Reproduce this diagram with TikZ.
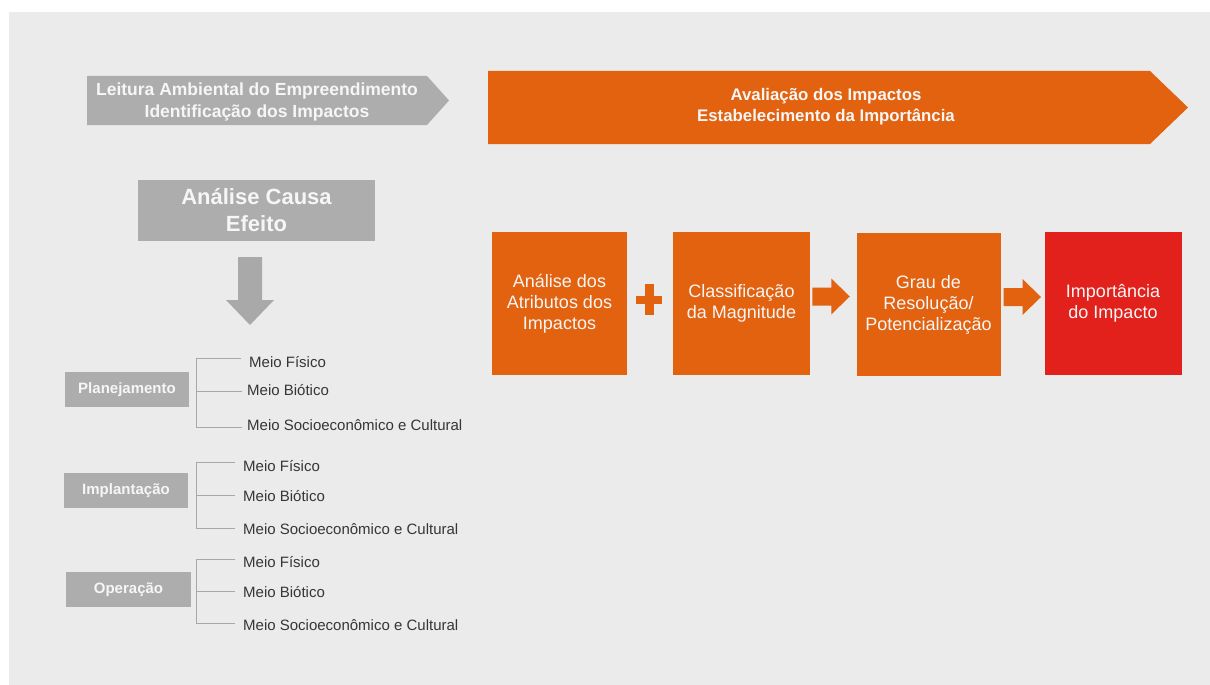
\documentclass[tikz,border=0pt]{standalone}
\usepackage{fontspec}
\setmainfont{Liberation Sans}
\usetikzlibrary{calc}
\definecolor{bg}{HTML}{EBEBEB}
\definecolor{boxgray}{HTML}{ADADAD}
\definecolor{arrowgray}{HTML}{A9A9A9}
\definecolor{orng}{HTML}{E2620F}
\definecolor{redbox}{HTML}{E2211C}
\definecolor{linegray}{HTML}{A8A8A8}
\definecolor{txt}{HTML}{363636}
\definecolor{light}{HTML}{F6F6F6}

\tikzset{
  graybox/.style={fill=boxgray, text=light, inner sep=0pt, align=center,
    font=\bfseries\fontsize{15}{18}\selectfont},
  stagebox/.style={fill=orng, text=light, inner sep=0pt, align=center,
    minimum height=143pt, font=\fontsize{18}{21}\selectfont},
  medium/.style={anchor=west, inner sep=0pt, text=txt,
    font=\fontsize{15}{18}\selectfont},
  treeline/.style={draw=linegray, line width=0.9pt},
  barrow/.pic={\fill[orng] (-19,-9) -- (0,-9) -- (0,-18) -- (18.5,0)
      -- (0,18) -- (0,9) -- (-19,9) -- cycle;},
  plussign/.pic={\fill[orng] (-4.5,-15.5) rectangle (4.5,15.5);
      \fill[orng] (-13,-4) rectangle (13,4);}
}

\begin{document}
\begin{tikzpicture}[x=1pt,y=-1pt]
\useasboundingbox (0,0) rectangle (1210,685);
\fill[white] (0,0) rectangle (1210,685);
\fill[bg] (9,12) rectangle (1210,685);

% phase banners
\fill[boxgray] (87,76) -- (427,76) -- (449,100.5) -- (427,125) -- (87,125) -- cycle;
\node[text=light, align=center, inner sep=0pt,
  font=\bfseries\fontsize{17.5}{22}\selectfont] (leitura) at (257,101.5)
  {Leitura Ambiental do Empreendimento\\Identificação dos Impactos};

\fill[orng] (488,71) -- (1150,71) -- (1188,107.5) -- (1150,144) -- (488,144) -- cycle;
\node[text=light, align=center, inner sep=0pt,
  font=\bfseries\fontsize{16.8}{21}\selectfont] (avaliacao) at (826,107)
  {Avaliação dos Impactos\\Estabelecimento da Importância};

% cause-effect block and down arrow
\node[graybox, minimum width=237pt, minimum height=61pt,
  font=\bfseries\fontsize{22}{27}\selectfont] (causa) at (256.5,210.5)
  {Análise Causa\\Efeito};
\fill[arrowgray] (238,257) -- (262,257) -- (262,300) -- (274,300) -- (250,325)
  -- (226,300) -- (238,300) -- cycle;

% evaluation chain
\node[stagebox, minimum width=135pt] (b1) at (559.5,303.5)
  {Análise dos\\Atributos dos\\Impactos};
\node[stagebox, minimum width=137pt] (b2) at (741.5,303.5)
  {Classificação\\da Magnitude};
\node[stagebox, minimum width=144pt] (b3) at (928.5,304.5)
  {Grau de\\Resolução/\\Potencialização};
\node[stagebox, fill=redbox, minimum width=137pt] (b4) at (1113,303.5)
  {Importância\\do Impacto};

\pic at ($(b1.east)!0.5!(b2.west)+(-1,-4)$) {plussign};
\pic at ($(b2.east)!0.5!(b3.west)+(-2,-7.5)$) {barrow};
\pic at ($(b3.east)!0.5!(b4.west)+(0,-7)$) {barrow};

% project phases
\node[graybox, minimum width=124pt, minimum height=35pt] (plan) at (127,389.5) {Planejamento};
\node[graybox, minimum width=124pt, minimum height=35pt] (impl) at (126,490.5) {Implantação};
\node[graybox, minimum width=125pt, minimum height=35pt] (oper) at (128.5,589.5) {Operação};

% environmental media per phase
\node[medium] (pf) at (249,362) {Meio Físico};
\node[medium] (pb) at (247,390) {Meio Biótico};
\node[medium] (ps) at (247,425) {Meio Socioeconômico e Cultural};

\node[medium] (if) at (243,466) {Meio Físico};
\node[medium] (ib) at (243,496) {Meio Biótico};
\node[medium] (is) at (243,529) {Meio Socioeconômico e Cultural};

\node[medium] (of) at (243,562) {Meio Físico};
\node[medium] (ob) at (243,592) {Meio Biótico};
\node[medium] (os) at (243,625) {Meio Socioeconômico e Cultural};

% brackets
\coordinate (pt) at (196,358);
\coordinate (pm) at (196,391);
\coordinate (pe) at (196,427);
\draw[treeline] ($(pf.west)+(-8,-4)$) -- (pt) -- (pe) -- ($(ps.west)+(-5,2)$);
\draw[treeline] (pm) -- ($(pb.west)+(-5,1)$);

\coordinate (it) at (196,462);
\coordinate (im) at (196,495);
\coordinate (ie) at (196,528);
\draw[treeline] ($(if.west)+(-8,-4)$) -- (it) -- (ie) -- ($(is.west)+(-8,-1)$);
\draw[treeline] (im) -- ($(ib.west)+(-8,-1)$);

\coordinate (ot) at (196,559);
\coordinate (om) at (196,591);
\coordinate (oe) at (196,623);
\draw[treeline] ($(of.west)+(-8,-3)$) -- (ot) -- (oe) -- ($(os.west)+(-8,-2)$);
\draw[treeline] (om) -- ($(ob.west)+(-8,-1)$);
\end{tikzpicture}
\end{document}
